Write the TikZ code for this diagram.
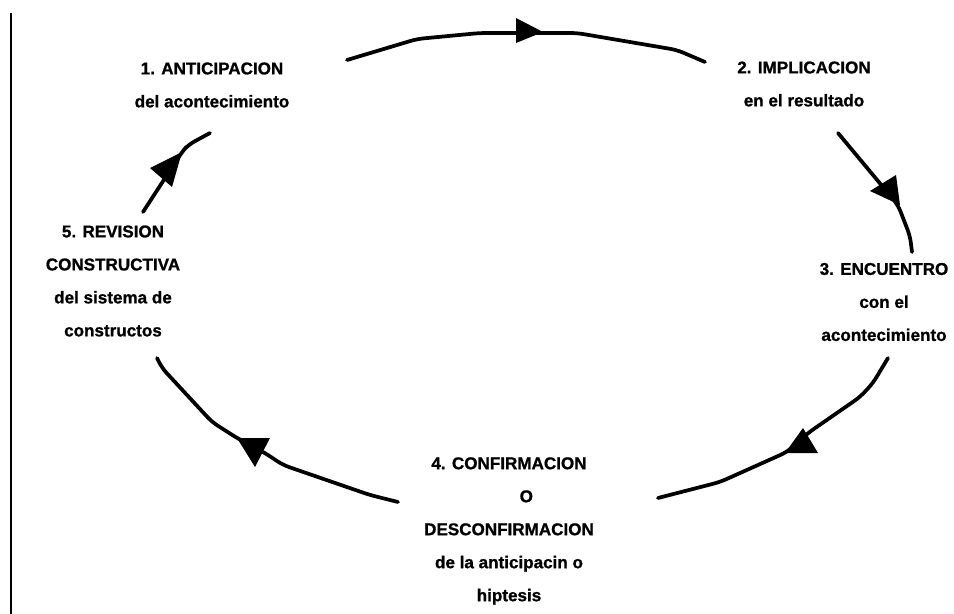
\documentclass[tikz,border=0pt]{standalone}
\usepackage{fontspec}
\setmainfont{Liberation Sans}[BoldFeatures={FakeBold=1}]
\usetikzlibrary{calc}
\def\punta(#1)(#2)(#3){\fill (#1) -- (#2) -- (#3) -- cycle;}

\begin{document}
\begin{tikzpicture}[x=0.75pt, y=-0.75pt,
		curva/.style={line width=2.8pt, line join=round, line cap=round, rounded corners=5pt},
		etapa/.style={align=center, inner sep=0pt, font=\fontsize{12.8}{24.75}\selectfont\bfseries}]
			%%%%% START %%%%%
			
			\useasboundingbox (0, 0) rectangle (954, 614);
			\draw[line width=1.5pt] (11, 13) -- (11, 614);
			
			\node[etapa] (anticipacion) at (212, 85) {1. ANTICIPACION\\del acontecimiento};
			\node[etapa] (implicacion) at (804, 84) {2. IMPLICACION\\en el resultado};
			\node[etapa] (encuentro) at (884, 302) {3. ENCUENTRO\\con el\\acontecimiento};
			\node[etapa] (confirmacion) at (509, 531) {4. CONFIRMACION\\\hspace*{26pt}O\\DESCONFIRMACION\\de la anticipacin o\\hiptesis};
			\node[etapa] (revision) at (113, 281) {5. REVISION\\CONSTRUCTIVA\\del sistema de\\constructos};
			
			\coordinate (s12) at (347, 60);
			\coordinate (e12) at (705, 62);
			\coordinate (s23) at (838, 133);
			\coordinate (e23) at (912, 252);
			\coordinate (s34) at (888, 358);
			\coordinate (e34) at (658, 498);
			\coordinate (s45) at (398, 502);
			\coordinate (e45) at (157, 358);
			\coordinate (s51) at (143, 212);
			\coordinate (e51) at (210, 133);
			
			% 1 -> 2
			\draw[curva] (s12) -- (417, 39) -- (480, 33) -- (577, 33) -- (677, 50) -- (e12);
			\punta(516, 18)(543, 32)(516, 43)
			
			% 2 -> 3
			\draw[curva] (s23) -- (898, 205) -- (910, 236) -- (e23);
			\punta(870, 191)(896, 175)(900, 205)
			
			% 3 -> 4
			\draw[curva] (s34) -- (873, 383) -- (860, 397) -- (808, 433) -- (787, 452) -- (720, 482) -- (e34);
			\punta(803, 428)(818, 453)(785, 453)
			
			% 4 -> 5
			\draw[curva] (s45) -- (370, 495) -- (283, 465) -- (265, 453) -- (237, 438) -- (212, 422) -- (162, 368) -- (e45);
			\punta(237, 438)(270, 438)(255, 467)
			
			% 5 -> 1
			\draw[curva] (s51) -- (182, 152) -- (188, 145) -- (e51);
			\punta(150, 168)(182, 152)(172, 187)
			
			%%%%% END %%%%%
\end{tikzpicture}
\end{document}
